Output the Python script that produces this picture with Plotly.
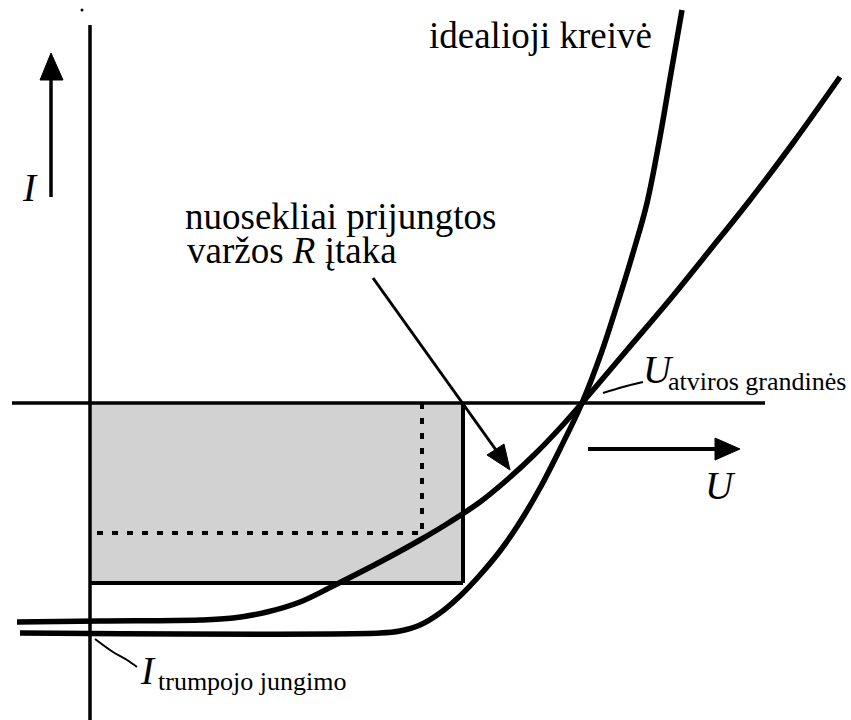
import plotly.graph_objects as go

# Solar-cell I-V characteristic: ideal curve vs. curve with series resistance R.
# Units: U and I in arbitrary units, origin at the axis crossing.

ideal_u = [-0.70, 2.90, 3.10, 3.30, 3.50, 3.70, 3.90, 4.10, 4.30, 4.50, 4.70, 4.92,
           5.12, 5.27, 5.43, 5.57, 5.70, 5.81, 5.92]
ideal_i = [-2.30, -2.30, -2.28, -2.22, -2.10, -1.93, -1.72, -1.48, -1.19, -0.85, -0.46, 0.00,
           0.52, 0.98, 1.50, 2.00, 2.66, 3.30, 3.93]

series_u = [-0.73, 0.10, 1.10, 1.43, 1.77, 2.10, 2.43, 2.90, 3.30, 3.60, 3.90, 4.18,
            4.45, 4.70, 4.92, 5.37, 5.77, 6.20, 6.60, 7.03, 7.50]
series_i = [-2.19, -2.18, -2.17, -2.15, -2.09, -1.99, -1.83, -1.59, -1.37, -1.19, -0.99, -0.76,
            -0.51, -0.25, 0.00, 0.53, 1.00, 1.53, 2.03, 2.60, 3.26]

# Maximum-power rectangles
rect_u = [0.0, 3.73]
rect_i = [-1.80, 0.0]
mpp_u = 3.32
mpp_i = -1.30

# Axis extents
u_axis = [-0.78, 6.75]
i_axis = [-3.17, 3.78]

X_RANGE = [-0.90, 7.61]
Y_RANGE = [-3.17, 4.03]

FONT = "Liberation Serif, Times New Roman, Times, serif"

fig = go.Figure()


def line(xs, ys, width, dash=None):
    fig.add_trace(go.Scatter(x=xs, y=ys, mode="lines",
                             line=dict(color="black", width=width, dash=dash),
                             hoverinfo="skip"))


def tri(xs, ys):
    fig.add_trace(go.Scatter(x=xs + [xs[0]], y=ys + [ys[0]], mode="lines",
                             fill="toself", fillcolor="black",
                             line=dict(color="black", width=1), hoverinfo="skip"))


# shaded power rectangle
fig.add_trace(go.Scatter(
    x=[rect_u[0], rect_u[1], rect_u[1], rect_u[0], rect_u[0]],
    y=[rect_i[1], rect_i[1], rect_i[0], rect_i[0], rect_i[1]],
    mode="lines", fill="toself", fillcolor="#d2d2d2",
    line=dict(width=0), hoverinfo="skip"))

# rectangle edges
line([rect_u[1], rect_u[1]], [rect_i[1], rect_i[0]], 4)
line([rect_u[0], rect_u[1]], [rect_i[0], rect_i[0]], 4)

# dotted reduced rectangle
line([0.07, mpp_u], [mpp_i, mpp_i], 4, dash="6px,9px")
line([mpp_u, mpp_u], [0.0, mpp_i], 4, dash="6px,9px")

# axes
line([0, 0], i_axis, 3.5)
line(u_axis, [0, 0], 3.5)

# curves
fig.add_trace(go.Scatter(x=ideal_u, y=ideal_i, mode="lines",
                         line=dict(color="black", width=5.5, shape="spline", smoothing=1),
                         hoverinfo="skip"))
fig.add_trace(go.Scatter(x=series_u, y=series_i, mode="lines",
                         line=dict(color="black", width=5.5, shape="spline", smoothing=1),
                         hoverinfo="skip"))

# I direction arrow
line([-0.39, -0.39], [2.06, 3.26], 3.5)
tri([-0.50, -0.27, -0.39], [3.23, 3.23, 3.50])

# U direction arrow
line([4.98, 6.28], [-0.46, -0.46], 4)
tri([6.25, 6.25, 6.50], [-0.35, -0.57, -0.46])

# arrow pointing from the R label to the curve
line([2.83, 4.06], [1.25, -0.47], 3)
tri([3.97, 4.14, 4.20], [-0.52, -0.41, -0.67])

# leader lines
fig.add_trace(go.Scatter(x=[0.05, 0.23, 0.37, 0.47], y=[-2.36, -2.49, -2.57, -2.64],
                         mode="lines", line=dict(color="black", width=2, shape="spline"),
                         hoverinfo="skip"))
fig.add_trace(go.Scatter(x=[5.13, 5.33, 5.53], y=[0.10, 0.16, 0.21],
                         mode="lines", line=dict(color="black", width=2, shape="spline"),
                         hoverinfo="skip"))

# small speck near the top of the I axis
fig.add_trace(go.Scatter(x=[-0.08], y=[3.93], mode="markers",
                         marker=dict(color="black", size=3), hoverinfo="skip"))


def label(text, x, y, size, xanchor="left", italic=False):
    if italic:
        text = "<i>" + text + "</i>"
    fig.add_annotation(x=x, y=y, xref="x", yref="y", text=text, showarrow=False,
                       xanchor=xanchor, yanchor="middle",
                       font=dict(family=FONT, size=size, color="black"))


def px_u(px):
    return (px - 90) / 100.0


def px_i(py):
    return (403 - py) / 100.0


label("idealioji kreivė", px_u(654), px_i(35), 37, xanchor="right")
label("nuosekliai prijungtos", px_u(183), px_i(216), 37)
label("varžos <i>R</i> įtaka", px_u(185), px_i(250), 37)
label("I", px_u(30), px_i(187), 39, xanchor="center", italic=True)
label("U", px_u(703), px_i(485), 39, italic=True)
label("U", px_u(641), px_i(369), 39, italic=True)
label("atviros grandinės", px_u(666), px_i(381), 26)
label("I", px_u(138), px_i(670), 39, italic=True)
label("trumpojo jungimo", px_u(156), px_i(681), 26)

fig.update_layout(
    width=851, height=720,
    margin=dict(l=0, r=0, t=0, b=0),
    paper_bgcolor="white", plot_bgcolor="white",
    showlegend=False,
    xaxis=dict(range=X_RANGE, visible=False, fixedrange=True),
    yaxis=dict(range=Y_RANGE, visible=False, fixedrange=True),
)

fig.write_html("out.html")
